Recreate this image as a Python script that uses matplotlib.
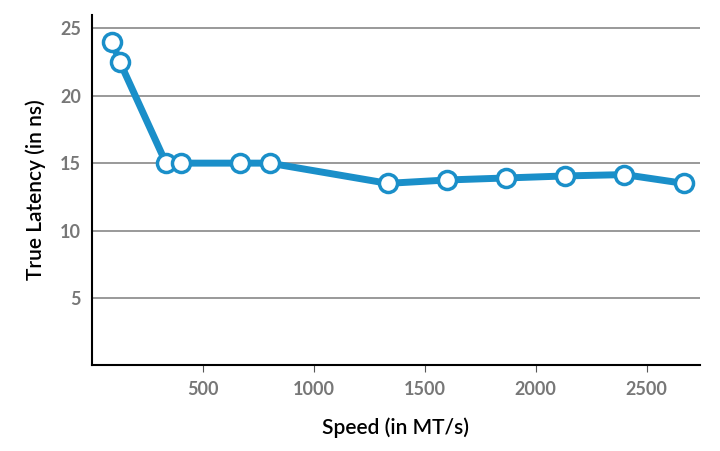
import matplotlib.pyplot as plt

speed = [90, 125, 333, 400, 667, 800, 1333, 1600, 1867, 2133, 2400, 2667]
latency = [24, 22.5, 15, 15, 15, 15, 13.5, 13.75, 13.9, 14.05, 14.15, 13.5]
yticks = [5, 10, 15, 20, 25]
xticks = [500, 1000, 1500, 2000, 2500]

plt.rcParams['font.family'] = ['Lato', 'DejaVu Sans']
fig = plt.figure(figsize=(7.2, 4.51), dpi=100)
ax = fig.add_axes([0.128, 0.19, 0.844, 0.777])

for y in yticks:
    ax.axhline(y, color='#888888', linewidth=1.2, zorder=1)
ax.plot(speed, latency, color='#1a8fc9', linewidth=5, marker='o', markersize=13,
        markerfacecolor='white', markeredgecolor='#1a8fc9', markeredgewidth=2.5, zorder=3)

ax.set_xlim(0, 2740)
ax.set_ylim(0, 26)
ax.set_xticks(xticks)
ax.set_yticks(yticks)
ax.tick_params(axis='y', length=0, pad=8, labelsize=13, labelcolor='#777777')
ax.tick_params(axis='x', length=5, color='#555555', pad=6, labelsize=13, labelcolor='#777777')
for lab in ax.get_xticklabels() + ax.get_yticklabels():
    lab.set_fontweight('bold')
ax.spines['top'].set_visible(False)
ax.spines['right'].set_visible(False)
ax.spines['left'].set_linewidth(1.5)
ax.spines['bottom'].set_linewidth(1.5)
ax.set_xlabel('Speed (in MT/s)', fontsize=15, fontweight='semibold', labelpad=14)
ax.set_ylabel('True Latency (in ns)', fontsize=15, fontweight='semibold', labelpad=10)

fig.savefig('out.png', dpi=100)
